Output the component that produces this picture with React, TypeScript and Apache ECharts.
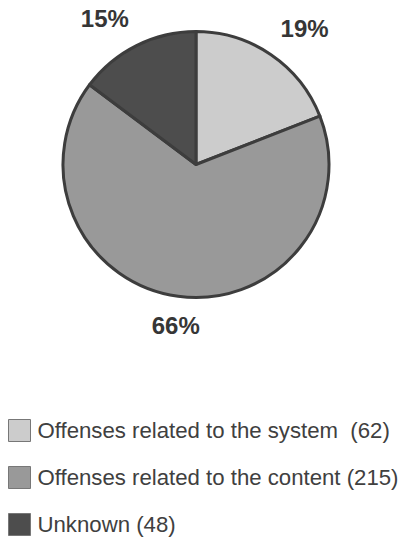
import React, { useEffect, useRef } from "react";
import * as echarts from "echarts";

const categories = [
  "Offenses related to the system",
  "Offenses related to the content",
  "Unknown",
];
const counts = [62, 215, 48];
const legendSuffix = ["  (62)", " (215)", " (48)"];
const sliceColors = ["#cccccc", "#999999", "#4d4d4d"];

const CX = 196;
const CY = 164.5;
const RADIUS = 133;
const LABEL_R = 150;

export default function App() {
  const ref = useRef<HTMLDivElement>(null);
  useEffect(() => {
    document.body.style.margin = "0";
    const chart = echarts.init(ref.current!, null, { renderer: "svg" });
    const total = counts.reduce((a, b) => a + b, 0);
    const font = "'Liberation Sans', Arial, Helvetica, sans-serif";
    chart.setOption({
      animation: false,
      backgroundColor: "#ffffff",
      legend: {
        orient: "vertical",
        left: 8,
        top: 419,
        padding: 0,
        itemWidth: 22,
        itemHeight: 22,
        itemGap: 24,
        icon: "rect",
        selectedMode: false,
        itemStyle: { borderColor: "#777777", borderWidth: 1 },
        textStyle: {
          fontFamily: font,
          fontSize: 22.2,
          color: "#404040",
          padding: [0, 0, 0, 2],
        },
        formatter: (name: string) => name + legendSuffix[categories.indexOf(name)],
        data: categories,
      },
      series: [
        {
          type: "pie",
          center: [CX, CY],
          radius: RADIUS,
          startAngle: 90,
          clockwise: true,
          avoidLabelOverlap: false,
          itemStyle: { borderColor: "#3d3d3d", borderWidth: 3 },
          label: {
            show: true,
            position: "outside",
            fontFamily: font,
            fontSize: 24,
            fontWeight: "bold",
            color: "#363636",
            formatter: (p: any) => Math.round(p.percent) + "%",
          },
          labelLine: { show: false },
          labelLayout: (params: any) => {
            const i = params.dataIndex;
            let cum = 0;
            for (let j = 0; j < i; j++) cum += counts[j];
            const mid = ((cum + counts[i] / 2) / total) * Math.PI * 2;
            const dx = Math.sin(mid);
            const dy = -Math.cos(mid);
            const px = CX + dx * LABEL_R;
            const py = CY + dy * LABEL_R;
            const w = params.labelRect.width;
            const h = params.labelRect.height;
            const ox = Math.abs(dx) < 0.3 ? 0 : Math.sign(dx) * (w / 2);
            const oy = Math.sign(dy) * (h / 2);
            return { x: px + ox, y: py + oy, align: "center", verticalAlign: "middle" };
          },
          data: categories.map((c, i) => ({
            name: c,
            value: counts[i],
            itemStyle: { color: sliceColors[i] },
          })),
        },
      ],
    });
    return () => chart.dispose();
  }, []);
  return <div ref={ref} style={{ width: 406, height: 539 }} />;
}
